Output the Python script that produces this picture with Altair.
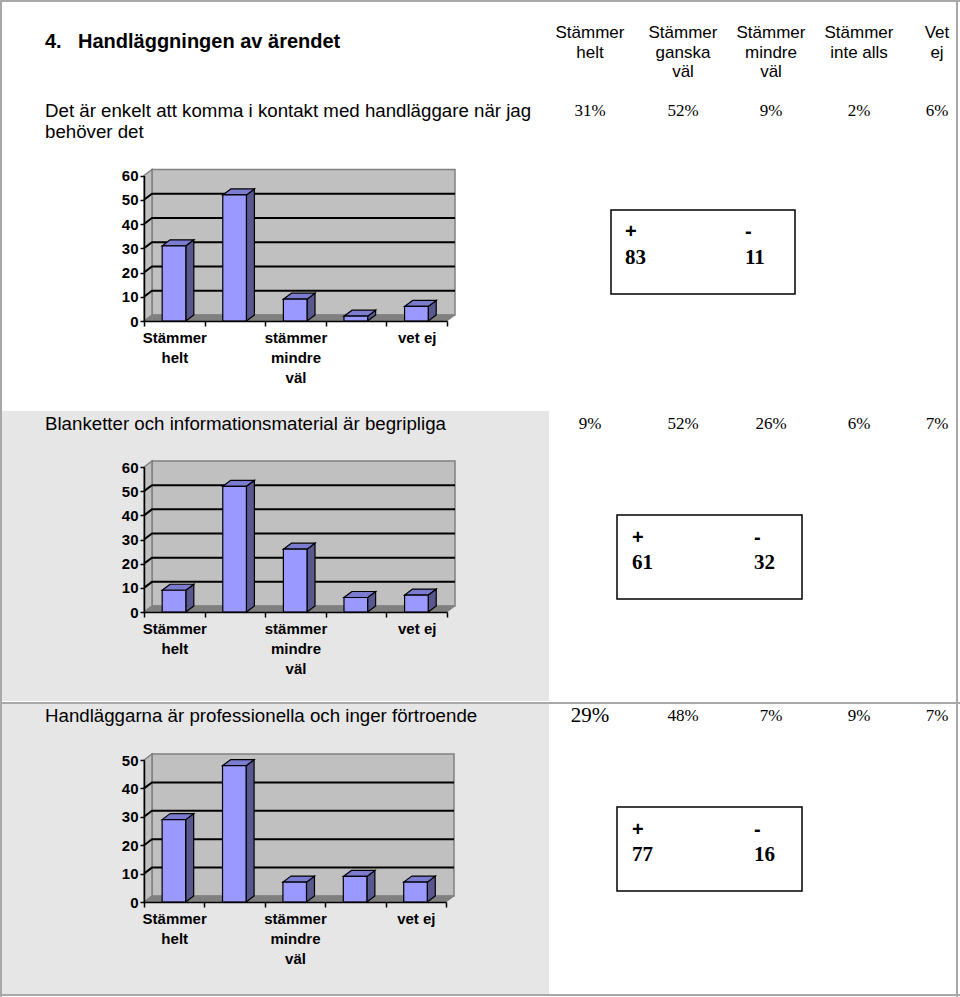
import json
import altair as alt
import pandas as pd

# ---------------- data ----------------
section_number = "4."
section_title = "Handläggningen av ärendet"
column_headers = [["Stämmer", "helt"], ["Stämmer", "ganska", "väl"],
                  ["Stämmer", "mindre", "väl"], ["Stämmer", "inte alls"], ["Vet", "ej"]]
questions = [
    ["Det är enkelt att komma i kontakt med handläggare när jag", "behöver det"],
    ["Blanketter och informationsmaterial är begripliga"],
    ["Handläggarna är professionella och inger förtroende"],
]
percent_q1 = [31, 52, 9, 2, 6]
percent_q2 = [9, 52, 26, 6, 7]
percent_q3 = [29, 48, 7, 9, 7]
plus_totals = [83, 61, 77]
minus_totals = [11, 32, 16]
axis_categories = ["Stämmer helt", "Stämmer ganska väl", "stämmer mindre väl",
                   "Stämmer inte alls", "vet ej"]
axis_label_lines = [["Stämmer", "helt"], ["Stämmer", "ganska", "väl"],
                    ["stämmer", "mindre", "väl"], ["Stämmer", "inte", "alls"], ["vet ej"]]
y_ticks_q1 = [0, 10, 20, 30, 40, 50, 60]
y_ticks_q2 = [0, 10, 20, 30, 40, 50, 60]
y_ticks_q3 = [0, 10, 20, 30, 40, 50]

# ---------------- layout / style ----------------
W, H = 960, 997
SANS = "Liberation Sans"
SERIF = "Liberation Serif"
COL_X = [590, 683, 771, 859, 937]
HEADER_Y, HEADER_LH = 33, 19.5
Q_X, Q_LH = 45, 21
ROW_Y = [111, 424, 716]
PCT_SIZE = [[17] * 5, [17] * 5, [21, 17, 17, 17, 17]]
CHART_X = [[144, 447], [144, 447], [144, 446]]
CHART_Y = [[321, 175.5], [612, 467], [902, 760]]
BOXES = [(611, 795, 210, 294), (617, 802, 515, 599), (617, 802, 807, 891)]
BOX_TX = [(625, 745), (632, 754), (632, 754)]
BOX_SIGN_Y = [232, 538, 830]
BOX_NUM_Y = [258, 563, 855]
DEPTH_X, DEPTH_Y = 8, 6
B0, B1 = 0.30, 0.69
FRONT, SIDE, TOP = "#9999ff", "#58588f", "#7b7bcf"
WALL, FLOOR, EDGE = "#c0c0c0", "#808080", "#808080"
BORDER = "#a8a8a8"
PANEL_BG = "#e6e6e6"

one = pd.DataFrame({"k": [0]})


def txt(text, x, y, size, font=SANS, weight="normal", align="left", baseline="middle"):
    return alt.Chart(one).mark_text(
        align=align, baseline=baseline, font=font, fontSize=size,
        fontWeight=weight, color="black"
    ).encode(x=alt.value(x), y=alt.value(y), text=alt.value(text))


def rect(x0, x1, y0, y1, **kw):
    return alt.Chart(one).mark_rect(**kw).encode(
        x=alt.value(x0), x2=alt.value(x1), y=alt.value(y0), y2=alt.value(y1))


def rule(x0, x1, y0, y1, color=BORDER, width=2):
    return alt.Chart(one).mark_rule(color=color, strokeWidth=width).encode(
        x=alt.value(x0), x2=alt.value(x1), y=alt.value(y0), y2=alt.value(y1))


label_arr = json.dumps([lines if k % 2 == 0 else "" for k, lines in enumerate(axis_label_lines)] + [""],
                       ensure_ascii=False)


def bar_chart(values, yticks, x_range, y_range):
    ymax = yticks[-1]
    ncat = len(axis_categories)
    px_x = (x_range[1] - x_range[0]) / ncat
    px_y = (y_range[0] - y_range[1]) / ymax
    dx = DEPTH_X / px_x
    dy = DEPTH_Y / px_y
    xs = alt.Scale(domain=[0, ncat], range=x_range, nice=False, zero=False)
    ys = alt.Scale(domain=[0, ymax], range=y_range, nice=False, zero=False)
    xax = alt.Axis(values=list(range(ncat + 1)), orient="bottom", offset=y_range[0] - H,
                   title=None, grid=False, labelExpr=f"{label_arr}[round(datum.value)]",
                   labelOffset=px_x / 2, labelFlush=False, labelOverlap=False,
                   labelFont=SANS, labelFontWeight="bold", labelFontSize=15,
                   labelLineHeight=20, labelPadding=4, labelColor="black",
                   tickSize=5, tickColor="black", tickWidth=1.5, domainColor="black",
                   domainWidth=1.5, zindex=1)
    yax = alt.Axis(values=yticks, orient="left", offset=-x_range[0], title=None, grid=False,
                   format="d", labelFont=SANS, labelFontWeight="bold", labelFontSize=15,
                   labelPadding=2, labelColor="black", tickSize=4, tickColor="black",
                   tickWidth=1.5, domainColor="black", domainWidth=1.5, zindex=1)

    def X(f):
        return alt.X(f, type="quantitative", scale=xs, axis=xax)

    def Y(f):
        return alt.Y(f, type="quantitative", scale=ys, axis=yax, stack=None)

    two = pd.DataFrame({"t": [0, 1]})
    wall = alt.Chart(one).transform_calculate(
        x0=f"{dx}", x1=f"{ncat + dx}", y0=f"{dy}", y1=f"{ymax + dy}"
    ).mark_rect(fill=WALL, stroke=EDGE, strokeWidth=1.5).encode(
        x=X("x0"), x2="x1", y=Y("y0"), y2="y1")
    left_wall = alt.Chart(two).transform_calculate(
        ax=f"datum.t * {dx}", ay=f"datum.t * {dy}", ay2=f"{ymax} + datum.t * {dy}"
    ).mark_area(orient="vertical", fill=WALL, stroke=EDGE, strokeWidth=1.5).encode(
        x=X("ax"), y=Y("ay"), y2="ay2")
    floor = alt.Chart(two).transform_calculate(
        fy=f"datum.t * {dy}", fx=f"datum.t * {dx}", fx2=f"{ncat} + datum.t * {dx}"
    ).mark_area(orient="horizontal", fill=FLOOR, stroke=FLOOR, strokeWidth=1).encode(
        y=Y("fy"), x=X("fx"), x2="fx2")
    grid_df = pd.DataFrame({"g": yticks[1:-1]})
    grid = alt.Chart(grid_df).transform_calculate(t="[0, 1, 2]").transform_flatten(["t"]).transform_calculate(
        gx=f"datum.t == 0 ? 0 : (datum.t == 1 ? {dx} : {ncat + dx})",
        gy=f"datum.g + (datum.t > 0 ? {dy} : 0)"
    ).mark_line(color="black", strokeWidth=2).encode(
        x=X("gx"), y=Y("gy"), detail="g:N", order="t:Q")

    bars = pd.DataFrame({"i": list(range(ncat)), "cat": axis_categories, "v": values})
    side = alt.Chart(bars).transform_calculate(t="[0, 1]").transform_flatten(["t"]).transform_calculate(
        sx=f"datum.i + {B1} + datum.t * {dx}", sy=f"datum.t * {dy}", sy2=f"datum.v + datum.t * {dy}"
    ).mark_area(orient="vertical", fill=SIDE, stroke="black", strokeWidth=1.2).encode(
        x=X("sx"), y=Y("sy"), y2="sy2", detail="i:N")
    top = alt.Chart(bars).transform_calculate(t="[0, 1]").transform_flatten(["t"]).transform_calculate(
        ty=f"datum.v + datum.t * {dy}", tx=f"datum.i + {B0} + datum.t * {dx}",
        tx2=f"datum.i + {B1} + datum.t * {dx}"
    ).mark_area(orient="horizontal", fill=TOP, stroke="black", strokeWidth=1.2).encode(
        y=Y("ty"), x=X("tx"), x2="tx2", detail="i:N")
    front = alt.Chart(bars).transform_calculate(
        fx0=f"datum.i + {B0}", fx1=f"datum.i + {B1}", fy0="0"
    ).mark_rect(fill=FRONT, stroke="black", strokeWidth=1.2).encode(
        x=X("fx0"), x2="fx1", y=Y("fy0"), y2="v:Q")
    return alt.layer(wall, left_wall, floor, grid, side, top, front)


layers = []
# panel backgrounds and frame
layers.append(rect(0, 549, 411, 701, fill=PANEL_BG))
layers.append(rect(0, 549, 704, 994, fill=PANEL_BG))
layers.append(rule(0, W, 1, 1))
layers.append(rule(1, 1, 0, H))
layers.append(rule(957, 957, 0, H))
layers.append(rule(0, W, 703, 703))
layers.append(rule(0, W, 995, 995))

# bar charts
for vals, ticks, xr, yr in zip([percent_q1, percent_q2, percent_q3],
                               [y_ticks_q1, y_ticks_q2, y_ticks_q3], CHART_X, CHART_Y):
    layers.append(bar_chart(vals, ticks, xr, yr))

# header
layers.append(txt(section_number, 45, 42, 20, weight="bold"))
layers.append(txt(section_title, 78, 42, 20, weight="bold"))
for cx, lines in zip(COL_X, column_headers):
    for j, line in enumerate(lines):
        layers.append(txt(line, cx, HEADER_Y + j * HEADER_LH, 17, align="center"))

# questions and percentages
for qi, (qlines, pcts) in enumerate(zip(questions, [percent_q1, percent_q2, percent_q3])):
    for j, line in enumerate(qlines):
        layers.append(txt(line, Q_X, ROW_Y[qi] + j * Q_LH, 18.7))
    for ci, (cx, p) in enumerate(zip(COL_X, pcts)):
        layers.append(txt(f"{p}%", cx, ROW_Y[qi], PCT_SIZE[qi][ci], font=SERIF, align="center"))

# summary boxes
for bi, (x0, x1, y0, y1) in enumerate(BOXES):
    layers.append(rect(x0, x1, y0, y1, fill="white", stroke="black", strokeWidth=1.5))
    px, mx = BOX_TX[bi]
    layers.append(txt("+", px, BOX_SIGN_Y[bi], 20, weight="bold"))
    layers.append(txt("-", mx, BOX_SIGN_Y[bi], 20, weight="bold"))
    layers.append(txt(str(plus_totals[bi]), px, BOX_NUM_Y[bi], 21, font=SERIF, weight="bold"))
    layers.append(txt(str(minus_totals[bi]), mx, BOX_NUM_Y[bi], 21, font=SERIF, weight="bold"))

chart = alt.layer(*layers).resolve_scale(
    x="independent", y="independent"
).resolve_axis(
    x="independent", y="independent"
).properties(
    width=W, height=H, padding=0, background="white",
    autosize=alt.AutoSizeParams(type="none")
).configure_view(strokeWidth=0)

chart.save("out.html", embed_options={"renderer": "svg", "actions": False})
